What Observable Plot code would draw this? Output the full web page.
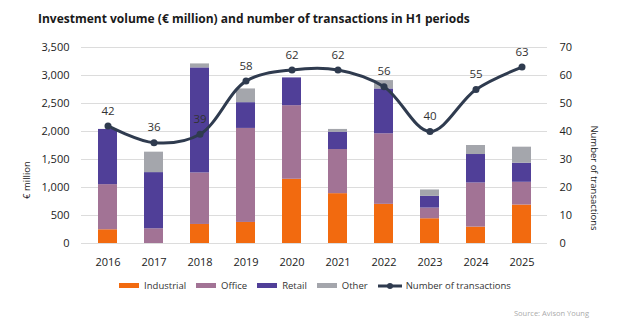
<!DOCTYPE html>
<html>
<head>
<meta charset="utf-8">
<script src="https://cdn.jsdelivr.net/npm/d3@7"></script>
<script src="https://cdn.jsdelivr.net/npm/@observablehq/plot@0.6"></script>
<style>
  html, body { margin: 0; padding: 0; background: #fff; }
  #wrap { position: relative; width: 640px; height: 323px; font-family: "Open Sans", sans-serif; color: #222; overflow: hidden; }
  #title { position: absolute; left: 38px; top: 10px; font-size: 12px; font-weight: 700; color: #1a1a1a; white-space: nowrap; }
  #chart { position: absolute; left: 0; top: 35px; }
  .ytitle { position: absolute; font-size: 9.5px; color: #222; white-space: nowrap; }
  #ytl { left: 26px; top: 180px; transform: translate(-50%, -50%) rotate(-90deg); }
  #ytr { left: 594px; top: 178px; transform: translate(-50%, -50%) rotate(90deg); }
  #legend { position: absolute; left: 0; width: 630px; top: 279px; display: flex; justify-content: center; align-items: center; font-size: 9.5px; color: #333; }
  .item { display: flex; align-items: center; margin: 0 5px; }
  .sw { width: 20px; height: 5px; margin-right: 5px; }
  #source { position: absolute; left: 514px; top: 308px; font-size: 7.5px; color: #aaa; white-space: nowrap; }
</style>
</head>
<body>
<div id="wrap">
  <div id="title">Investment volume (€ million) and number of transactions in H1 periods</div>
  <div id="chart"></div>
  <div class="ytitle" id="ytl">€ million</div>
  <div class="ytitle" id="ytr">Number of transactions</div>
  <div id="legend"></div>
  <div id="source">Source: Avison Young</div>
</div>
<script>
const years = ["2016","2017","2018","2019","2020","2021","2022","2023","2024","2025"];
const industrial = [245, 0, 340, 376, 1147, 890, 699, 442, 293, 687];
const office     = [806, 263, 920, 1679, 1314, 788, 1260, 191, 788, 406];
const retail     = [986, 1003, 1876, 460, 496, 311, 801, 209, 508, 341];
const other      = [0, 365, 71, 245, 0, 48, 149, 114, 161, 286];
const transactions = [42, 36, 39, 58, 62, 62, 56, 40, 55, 63];
const seriesNames = ["Industrial", "Office", "Retail", "Other"];
const seriesColors = ["#F26A0F", "#A27395", "#503F98", "#A4A6AC"];
const lineColor = "#2F3B4F";
const leftTicks = [0, 500, 1000, 1500, 2000, 2500, 3000, 3500];
const rightMax = 70;
const leftMax = 3500;
const ratio = leftMax / rightMax;

const seriesValues = [industrial, office, retail, other];
const bars = [];
seriesNames.forEach((s, si) => {
  years.forEach((y, i) => bars.push({year: y, series: s, value: seriesValues[si][i], order: si}));
});
const linePts = years.map((y, i) => ({year: y, n: transactions[i]}));

const plot = Plot.plot({
  width: 640,
  height: 240,
  marginTop: 12,
  marginBottom: 32,
  marginLeft: 81,
  marginRight: 93,
  style: {fontFamily: "Open Sans, sans-serif", fontSize: "11px", color: "#333", background: "transparent"},
  x: {domain: years, paddingInner: 0.59, paddingOuter: 0.3, label: null},
  y: {domain: [0, leftMax], label: null},
  color: {domain: seriesNames, range: seriesColors},
  marks: [
    Plot.gridY(leftTicks, {stroke: "#dcdcdc", strokeOpacity: 1, strokeWidth: 1}),
    Plot.barY(bars, {x: "year", y: "value", fill: "series", order: seriesNames}),
    Plot.line(linePts, {x: "year", y: d => d.n * ratio, stroke: lineColor, strokeWidth: 3, curve: "catmull-rom"}),
    Plot.dot(linePts, {x: "year", y: d => d.n * ratio, fill: lineColor, r: 3.5}),
    Plot.text(linePts, {x: "year", y: d => d.n * ratio, text: d => String(d.n), dy: -15, fill: "#333", fontSize: 11.5}),
    Plot.axisY(leftTicks, {anchor: "left", tickSize: 0, tickPadding: 12, tickFormat: d => d3.format(",")(d), label: null, fill: "#222"}),
    Plot.axisY(leftTicks, {anchor: "right", tickSize: 0, tickPadding: 12, tickFormat: d => String(d / ratio), label: null, fill: "#222"}),
    Plot.axisX({tickSize: 0, tickPadding: 15, label: null, fill: "#222"})
  ]
});
document.getElementById("chart").appendChild(plot);

const legend = document.getElementById("legend");
seriesNames.forEach((s, i) => {
  const it = document.createElement("div");
  it.className = "item";
  it.innerHTML = `<div class="sw" style="background:${seriesColors[i]}"></div><span>${s}</span>`;
  legend.appendChild(it);
});
const li = document.createElement("div");
li.className = "item";
li.innerHTML = `<svg width="24" height="8" style="margin-right:4px"><line x1="0" y1="4" x2="24" y2="4" stroke="${lineColor}" stroke-width="3"/><circle cx="12" cy="4" r="3" fill="${lineColor}"/></svg><span>Number of transactions</span>`;
legend.appendChild(li);
</script>
</body>
</html>
